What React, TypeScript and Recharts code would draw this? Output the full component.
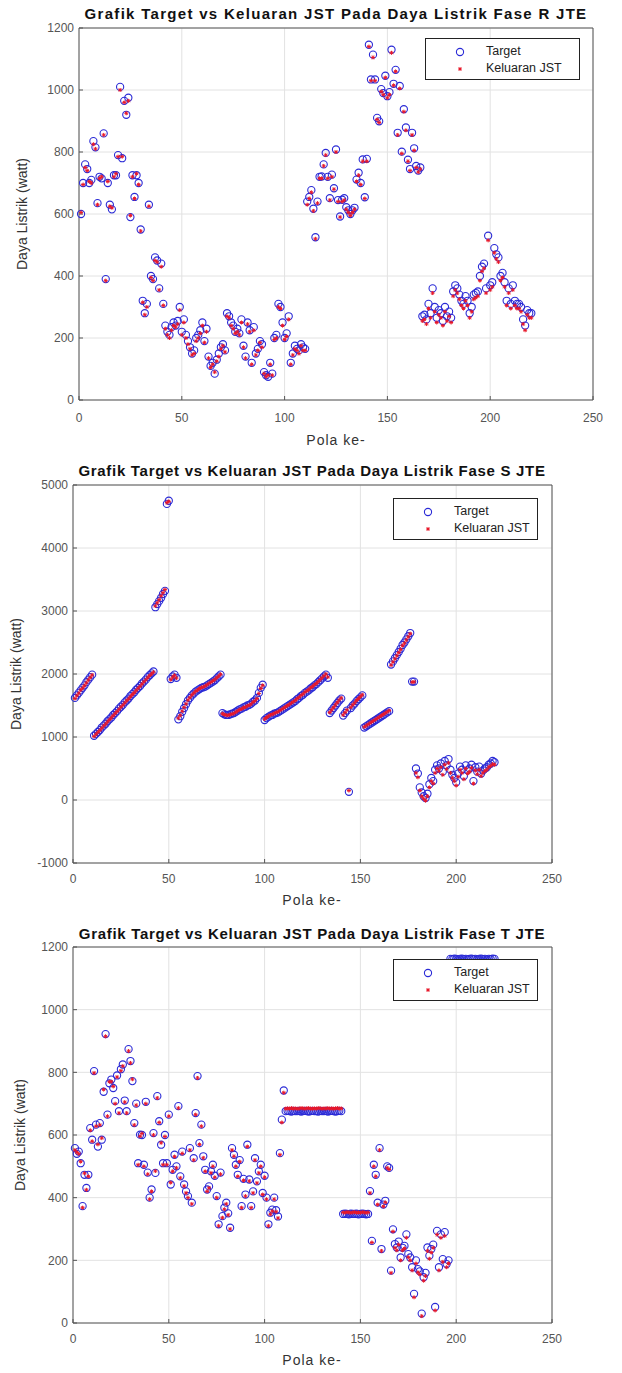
import React from 'react'
import { ScatterChart, Scatter, XAxis, YAxis, CartesianGrid } from 'recharts'

// Pola ke- (pattern index) shared by all three phases
const pola = Array.from({ length: 220 }, (_, i) => i + 1)
const xTicks = [0, 50, 100, 150, 200, 250]

// Fase R
const ticksR = [0, 200, 400, 600, 800, 1000, 1200]
const targetR = [
  600, 700, 760, 745, 700, 710, 835, 815, 635, 720,
  715, 860, 390, 700, 630, 615, 725, 725, 790, 1010,
  780, 965, 920, 975, 590, 725, 655, 725, 700, 550,
  320, 280, 310, 630, 400, 390, 460, 450, 360, 440,
  310, 240, 220, 210, 235, 250, 240, 255, 300, 220,
  260, 210, 190, 170, 150, 160, 200, 210, 225, 250,
  190, 230, 140, 110, 120, 85, 130, 150, 170, 180,
  160, 280, 270, 250, 240, 220, 230, 215, 260, 175,
  140, 250, 225, 120, 235, 150, 165, 190, 180, 90,
  80, 75, 120, 85, 200, 210, 310, 300, 250, 200,
  215, 270, 120, 150, 175, 165, 160, 180, 170, 165,
  640, 655, 677, 617, 525, 640, 720, 721, 760, 797,
  720, 651, 727, 683, 808, 645, 592, 646, 651, 622,
  612, 600, 612, 620, 711, 733, 700, 776, 654, 778,
  1146, 1034, 1114, 1034, 910, 899, 1003, 990, 1046, 980,
  993, 1130, 1020, 1065, 862, 1013, 801, 938, 879, 775,
  745, 862, 812, 755, 740, 750, 270, 275, 260, 310,
  280, 360, 300, 265, 290, 280, 255, 300, 270, 285,
  265, 350, 370, 360, 340, 320, 310, 335, 320, 280,
  300, 340, 345, 350, 400, 430, 440, 360, 530, 370,
  380, 490, 470, 460, 400, 410, 380, 320, 360, 310,
  370, 320, 310, 310, 300, 260, 240, 290, 280, 280,
]
const outputR = [
  605, 695, 750, 740, 705, 700, 825, 810, 630, 715,
  720, 855, 385, 705, 625, 620, 720, 730, 785, 1000,
  785, 960, 925, 965, 595, 720, 650, 730, 695, 545,
  315, 275, 300, 625, 395, 385, 450, 445, 355, 430,
  305, 230, 210, 200, 225, 240, 235, 245, 290, 210,
  250, 200, 180, 165, 145, 150, 190, 200, 215, 240,
  185, 220, 135, 105, 115, 90, 125, 140, 165, 175,
  155, 270, 265, 240, 230, 215, 220, 210, 250, 170,
  135, 245, 220, 115, 225, 145, 160, 185, 170, 85,
  75, 80, 115, 80, 195, 200, 300, 295, 240, 195,
  205, 260, 115, 145, 165, 160, 150, 175, 160, 160,
  630, 650, 670, 610, 520, 635, 715, 715, 755, 790,
  715, 645, 720, 680, 800, 640, 590, 640, 645, 615,
  605, 595, 605, 615, 705, 725, 695, 770, 650, 770,
  1140, 1030, 1105, 1030, 905, 895, 995, 985, 1040, 975,
  985, 1120, 1015, 1060, 855, 1005, 795, 930, 870, 770,
  740, 855, 805, 750, 735, 745, 255, 260, 245, 295,
  265, 345, 285, 250, 275, 265, 240, 285, 255, 270,
  250, 335, 355, 345, 325, 305, 295, 320, 305, 265,
  285, 325, 330, 335, 385, 415, 425, 345, 515, 355,
  365, 475, 455, 445, 385, 395, 365, 305, 345, 295,
  355, 305, 295, 295, 285, 245, 225, 275, 265, 265,
]

// Fase S
const ticksS = [-1000, 0, 1000, 2000, 3000, 4000, 5000]
const targetS = [
  1620, 1660, 1700, 1740, 1780, 1820, 1870, 1910, 1950, 1990,
  1020, 1050, 1080, 1110, 1150, 1180, 1210, 1250, 1280, 1310,
  1350, 1380, 1410, 1450, 1480, 1510, 1550, 1580, 1610, 1650,
  1680, 1710, 1750, 1780, 1810, 1850, 1880, 1910, 1950, 1980,
  2010, 2040, 3060, 3110, 3160, 3210, 3270, 3320, 4700, 4750,
  1920, 1960, 1990, 1940, 1280, 1330, 1400, 1460, 1520, 1580,
  1620, 1660, 1690, 1720, 1740, 1760, 1780, 1790, 1800, 1820,
  1840, 1860, 1880, 1900, 1930, 1960, 1990, 1380, 1360, 1350,
  1350, 1360, 1370, 1380, 1400, 1420, 1440, 1450, 1470, 1480,
  1500, 1510, 1530, 1560, 1580, 1620, 1700, 1780, 1830, 1270,
  1300, 1320, 1340, 1350, 1370, 1380, 1390, 1410, 1430, 1450,
  1470, 1490, 1510, 1530, 1550, 1570, 1600, 1620, 1650, 1670,
  1700, 1720, 1740, 1770, 1790, 1820, 1840, 1870, 1900, 1930,
  1960, 1990, 1940, 1380, 1420, 1460, 1500, 1540, 1580, 1610,
  1340, 1380, 1420, 130, 1460, 1500, 1530, 1570, 1600, 1630,
  1660, 1150, 1170, 1190, 1210, 1230, 1250, 1270, 1290, 1310,
  1330, 1350, 1370, 1390, 1410, 2150, 2200, 2250, 2300, 2350,
  2400, 2460, 2500, 2550, 2600, 2650, 1880, 1880, 500, 420,
  200, 120, 60, 30, 100, 250, 350, 300, 480, 550,
  500, 580, 450, 620, 550, 650, 480, 400, 350, 280,
  420, 530, 480, 380, 550, 470, 500, 560, 300, 520,
  450, 530, 420, 470, 500, 520, 560, 580, 620, 600,
]
const outputS = [
  1610, 1655, 1695, 1745, 1775, 1815, 1860, 1905, 1945, 1985,
  1010, 1045, 1075, 1105, 1140, 1175, 1205, 1240, 1275, 1305,
  1340, 1375, 1405, 1440, 1475, 1505, 1540, 1575, 1605, 1640,
  1675, 1705, 1740, 1775, 1805, 1840, 1875, 1905, 1940, 1975,
  2000, 2030, 3080, 3130, 3180, 3240, 3290, 3340, 4720, 4740,
  1910, 1950, 1980, 1935, 1300, 1345, 1410, 1470, 1525, 1585,
  1625, 1665, 1695, 1725, 1745, 1770, 1785, 1795, 1810, 1830,
  1850, 1870, 1890, 1910, 1940, 1965, 1995, 1370, 1355, 1345,
  1345, 1355, 1365, 1375, 1395, 1415, 1435, 1445, 1465, 1475,
  1495, 1505, 1525, 1555, 1575, 1610, 1690, 1770, 1820, 1285,
  1310, 1330, 1350, 1360, 1375, 1390, 1400, 1420, 1440, 1460,
  1480, 1500, 1520, 1540, 1560, 1580, 1610, 1630, 1660, 1680,
  1710, 1730, 1750, 1780, 1800, 1830, 1850, 1880, 1910, 1940,
  1970, 2000, 1950, 1390, 1430, 1470, 1510, 1550, 1590, 1620,
  1350, 1390, 1430, 150, 1470, 1510, 1540, 1580, 1610, 1640,
  1670, 1160, 1180, 1200, 1220, 1240, 1260, 1280, 1300, 1320,
  1340, 1360, 1380, 1400, 1420, 2140, 2190, 2240, 2290, 2340,
  2390, 2450, 2490, 2540, 2590, 2640, 1870, 1875, 430, 360,
  150, 60, 20, -10, 60, 200, 300, 260, 430, 500,
  460, 520, 400, 560, 490, 590, 430, 350, 300, 230,
  370, 480, 430, 330, 500, 420, 450, 510, 260, 470,
  410, 480, 380, 430, 460, 480, 520, 540, 570, 560,
]

// Fase T
const ticksT = [0, 200, 400, 600, 800, 1000, 1200]
const targetT = [
  558, 540, 547, 510, 373, 473, 431, 473, 622, 585,
  804, 633, 563, 638, 585, 738, 922, 665, 765, 777,
  750, 708, 790, 676, 810, 825, 710, 676, 874, 836,
  772, 638, 700, 510, 601, 600, 505, 706, 480, 400,
  426, 606, 479, 724, 644, 569, 510, 600, 510, 665,
  442, 489, 537, 500, 692, 468, 547, 442, 420, 405,
  558, 384, 526, 670, 788, 574, 633, 532, 489, 426,
  436, 484, 505, 470, 405, 315, 480, 341, 368, 384,
  350, 304, 558, 537, 505, 473, 520, 373, 460, 410,
  569, 458, 373, 420, 526, 452, 484, 505, 415, 470,
  400, 315, 352, 362, 400, 360, 340, 542, 649, 742,
  676, 677, 676, 675, 677, 676, 676, 677, 675, 676,
  677, 676, 675, 676, 677, 676, 676, 675, 677, 676,
  676, 677, 675, 676, 677, 676, 675, 676, 677, 676,
  348, 349, 348, 347, 349, 348, 348, 349, 347, 348,
  349, 348, 347, 348, 421, 262, 505, 473, 384, 558,
  236, 378, 390, 500, 495, 167, 299, 252, 241, 260,
  209, 240, 246, 283, 220, 209, 178, 93, 200, 172,
  165, 30, 146, 160, 241, 215, 236, 250, 51, 294,
  178, 283, 204, 290, 188, 200, 1162, 1161, 1163, 1162,
  1160, 1162, 1163, 1161, 1162, 1160, 1162, 1163, 1161, 1162,
  1160, 1162, 1163, 1161, 1162, 1160, 1162, 1161, 1163, 1162,
]
const outputT = [
  552, 545, 540, 515, 368, 478, 425, 468, 615, 580,
  798, 628, 570, 632, 590, 745, 915, 660, 770, 770,
  755, 700, 785, 670, 805, 820, 705, 670, 868, 830,
  778, 632, 695, 505, 596, 605, 500, 700, 475, 395,
  420, 600, 485, 718, 640, 575, 505, 595, 505, 660,
  448, 484, 531, 495, 686, 463, 541, 437, 415, 400,
  552, 380, 520, 665, 782, 570, 628, 527, 484, 420,
  431, 479, 500, 465, 400, 310, 475, 336, 363, 380,
  345, 300, 552, 532, 500, 468, 515, 368, 455, 405,
  563, 453, 368, 415, 520, 447, 479, 500, 410, 465,
  395, 310, 347, 357, 395, 355, 335, 537, 640, 735,
  684, 685, 684, 686, 684, 685, 684, 684, 686, 685,
  684, 685, 686, 684, 684, 685, 684, 686, 685, 684,
  685, 684, 686, 684, 685, 684, 685, 686, 684, 685,
  353, 352, 354, 353, 352, 353, 354, 352, 353, 352,
  354, 353, 352, 353, 415, 257, 500, 468, 378, 552,
  230, 372, 385, 495, 490, 160, 292, 240, 232, 250,
  200, 232, 238, 272, 210, 200, 168, 82, 190, 162,
  155, 22, 135, 150, 230, 205, 225, 240, 40, 282,
  168, 272, 195, 278, 178, 190, 1154, 1153, 1155, 1154,
  1152, 1154, 1155, 1153, 1154, 1152, 1154, 1155, 1153, 1154,
  1152, 1154, 1155, 1153, 1154, 1152, 1154, 1153, 1155, 1154,
]

const FONT = '"Liberation Sans", Arial, sans-serif'
const AXIS = '#555'

function TargetMarker(props: any) {
  const { cx, cy } = props
  if (cx == null || cy == null) return <g />
  return <circle cx={cx} cy={cy} r={3.6} fill="none" stroke="#2a2ad6" strokeWidth={1.1} />
}

function OutputMarker(props: any) {
  const { cx, cy } = props
  if (cx == null || cy == null) return <g />
  const s = 2
  const d = s * 0.7
  return (
    <g stroke="#e8182a" strokeWidth={1}>
      <line x1={cx - s} y1={cy} x2={cx + s} y2={cy} />
      <line x1={cx} y1={cy - s} x2={cx} y2={cy + s} />
      <line x1={cx - d} y1={cy - d} x2={cx + d} y2={cy + d} />
      <line x1={cx - d} y1={cy + d} x2={cx + d} y2={cy - d} />
    </g>
  )
}

function Legend({ left, top, width }: { left: number; top: number; width: number }) {
  return (
    <div
      style={{
        position: 'absolute', left, top, width, height: 42, boxSizing: 'border-box',
        border: '1px solid #222', background: '#fff', fontSize: 12.5, color: '#222',
      }}
    >
      <svg width={40} height={42} style={{ position: 'absolute', left: 14, top: 0 }}>
        <TargetMarker cx={20} cy={13} />
        <OutputMarker cx={20} cy={30} />
      </svg>
      <div style={{ position: 'absolute', left: 60, top: 5 }}>Target</div>
      <div style={{ position: 'absolute', left: 60, top: 22 }}>Keluaran JST</div>
    </div>
  )
}

function PhaseChart({ title, target, output, yDomain, yTicks, layout }: any) {
  const targetData = pola.map((x, i) => ({ x, y: target[i] }))
  const outputData = pola.map((x, i) => ({ x, y: output[i] }))
  const { top, height, margin, centerX, titleY, titleSpacing, yLabelX, yLabelY, xLabelY, legendLeft, legendTop, legendWidth, xTickMargin } = layout
  const tickStyle = { fill: '#555', fontSize: 12, fontFamily: FONT }
  return (
    <div style={{ position: 'absolute', left: 0, top, width: 622, height, fontFamily: FONT }}>
      <ScatterChart width={622} height={height} margin={margin}>
        <CartesianGrid stroke="#e2e2e2" />
        <XAxis
          type="number" dataKey="x" domain={[0, 250]} ticks={xTicks} interval={0}
          height={30} tickSize={-4} tickMargin={xTickMargin} stroke={AXIS} tick={tickStyle}
        />
        <XAxis
          xAxisId="top" orientation="top" type="number" domain={[0, 250]} ticks={xTicks}
          height={1} tickSize={-4} tick={() => <g />} stroke={AXIS}
        />
        <YAxis
          type="number" dataKey="y" domain={yDomain} ticks={yTicks} interval={0}
          width={50} tickSize={-4} tickMargin={9} stroke={AXIS} tick={tickStyle}
        />
        <YAxis
          yAxisId="right" orientation="right" type="number" domain={yDomain} ticks={yTicks}
          width={1} tickSize={-4} tick={() => <g />} stroke={AXIS}
        />
        <Scatter name="Target" data={targetData} shape={TargetMarker} isAnimationActive={false} />
        <Scatter name="Keluaran JST" data={outputData} shape={OutputMarker} isAnimationActive={false} />
      </ScatterChart>
      <div
        style={{
          position: 'absolute', left: centerX, top: titleY, transform: 'translate(-50%, -50%)',
          whiteSpace: 'nowrap', fontWeight: 'bold', fontSize: 15, letterSpacing: titleSpacing, color: '#111',
        }}
      >
        {title}
      </div>
      <div
        style={{
          position: 'absolute', left: centerX, top: xLabelY, transform: 'translate(-50%, -50%)',
          whiteSpace: 'nowrap', fontSize: 14, letterSpacing: 1, color: '#333',
        }}
      >
        Pola ke-
      </div>
      <div
        style={{
          position: 'absolute', left: yLabelX, top: yLabelY, transform: 'translate(-50%, -50%) rotate(-90deg)',
          whiteSpace: 'nowrap', fontSize: 14, color: '#333',
        }}
      >
        Daya Listrik (watt)
      </div>
      <Legend left={legendLeft} top={legendTop} width={legendWidth} />
    </div>
  )
}

const layoutR = {
  top: 0, height: 457, margin: { top: 27, right: 28, bottom: 27, left: 29 },
  centerX: 336, titleY: 13, titleSpacing: 1.3, yLabelX: 22, yLabelY: 214, xLabelY: 440,
  legendLeft: 425, legendTop: 38, legendWidth: 155, xTickMargin: 17,
}
const layoutS = {
  top: 457, height: 448, margin: { top: 27, right: 69, bottom: 12, left: 23 },
  centerX: 312, titleY: 13, titleSpacing: 0.7, yLabelX: 16, yLabelY: 217, xLabelY: 443,
  legendLeft: 393, legendTop: 41, legendWidth: 145, xTickMargin: 15,
}
const layoutT = {
  top: 905, height: 468, margin: { top: 41, right: 69, bottom: 20, left: 23 },
  centerX: 312, titleY: 28, titleSpacing: 0.7, yLabelX: 20, yLabelY: 230, xLabelY: 455,
  legendLeft: 393, legendTop: 54, legendWidth: 145, xTickMargin: 15,
}

export default function App() {
  return (
    <div style={{ position: 'absolute', left: 0, top: 0, width: 622, height: 1373, background: '#fff' }}>
      <PhaseChart
        title="Grafik Target vs Keluaran JST Pada Daya Listrik Fase R JTE"
        target={targetR} output={outputR} yDomain={[0, 1200]} yTicks={ticksR} layout={layoutR}
      />
      <PhaseChart
        title="Grafik Target vs Keluaran JST Pada Daya Listrik Fase S JTE"
        target={targetS} output={outputS} yDomain={[-1000, 5000]} yTicks={ticksS} layout={layoutS}
      />
      <PhaseChart
        title="Grafik Target vs Keluaran JST Pada Daya Listrik Fase T JTE"
        target={targetT} output={outputT} yDomain={[0, 1200]} yTicks={ticksT} layout={layoutT}
      />
    </div>
  )
}
